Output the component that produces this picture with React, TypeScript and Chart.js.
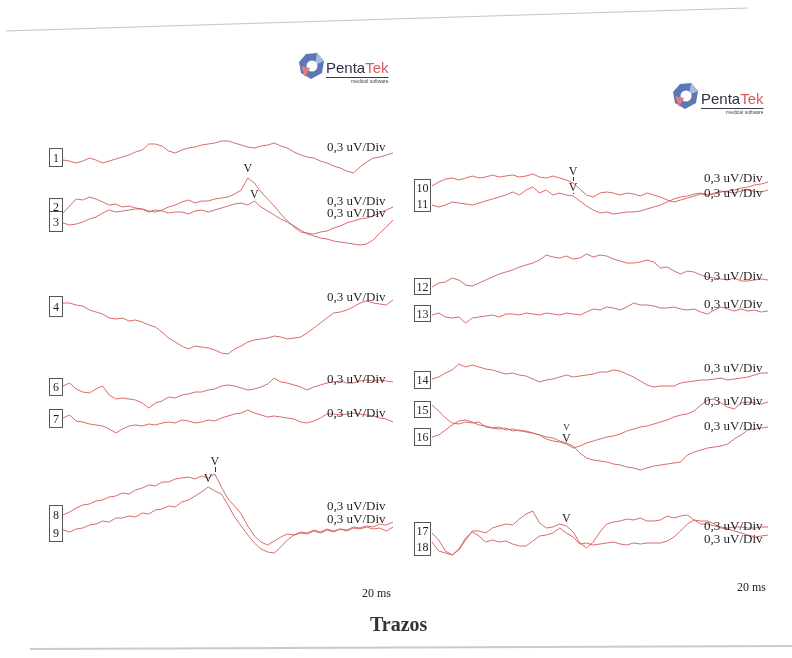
import React, { useEffect, useRef } from 'react';
import { Chart, registerables } from 'chart.js';

Chart.register(...registerables);

const PAGE_W = 792;
const PAGE_H = 658;
const SWEEP_MS = 20;
const SAMPLE_MS = 0.4;
const TRACE_COLOR = 'rgba(212, 92, 92, 0.9)';
const SERIF = "'Liberation Serif', 'DejaVu Serif', serif";
const SANS = "'Liberation Sans', Arial, sans-serif";

// Recorded amplitudes, one sample every 0.4 ms over the 20 ms sweep (positive = upward).
const trace1 = [0, -1, -3, -1, 2, 0, -3, -1, 1, 3, 5, 8, 10, 16, 16, 14, 9, 7, 10, 12, 13, 15, 16, 17, 19, 19, 17, 15, 13, 12, 14, 15, 17, 14, 12, 8, 5, 3, 2, -1, -3, -6, -8, -11, -13, -7, -2, 2, 3, 5, 7];
const trace2 = [-3, 4, 11, 10, 13, 11, 8, 5, 6, 3, 4, 2, 1, -1, -2, 0, 3, 5, 8, 10, 7, 9, 9, 11, 12, 13, 16, 20, 32, 27, 18, 11, 4, -4, -11, -17, -22, -23, -24, -22, -21, -18, -16, -13, -11, -9, -8, -6, -3, 0, 3];
const trace3 = [0, -2, -1, 1, 4, 6, 10, 13, 11, 12, 13, 14, 14, 11, 13, 12, 10, 11, 11, 9, 12, 13, 11, 13, 15, 17, 19, 20, 18, 22, 16, 12, 8, 4, 1, -3, -7, -11, -13, -15, -16, -18, -19, -20, -21, -22, -21, -17, -10, -4, 3];
const trace4 = [0, 0, -2, -3, -7, -9, -11, -15, -16, -15, -18, -17, -19, -22, -24, -29, -35, -39, -43, -46, -43, -44, -45, -47, -50, -51, -46, -43, -39, -37, -36, -35, -33, -34, -36, -35, -34, -30, -25, -20, -15, -10, -9, -7, -4, 0, 2, 0, -1, -2, 3];
const trace6 = [0, 3, -3, -6, -7, -3, 0, -9, -13, -12, -13, -14, -17, -22, -17, -15, -11, -12, -9, -8, -6, -6, -4, -3, 0, 1, 0, -2, -4, -3, -1, 2, 8, 4, 3, 1, -1, -4, -1, 1, 3, 4, 5, 3, 3, 5, 6, 5, 6, 5, 4];
const trace7 = [0, 3, -3, -4, -6, -7, -8, -11, -15, -11, -8, -7, -8, -6, -7, -5, -4, -5, -2, -3, -5, -4, -2, -3, 0, 2, 4, 5, 8, 5, 3, 1, 2, 1, 0, -1, -4, -5, -3, 0, 4, 4, 3, 4, 5, 4, 3, 2, 0, -1, -4];
const trace8 = [0, 3, 7, 10, 11, 14, 15, 18, 19, 22, 21, 25, 27, 30, 29, 33, 33, 36, 37, 38, 36, 39, 37, 41, 28, 16, 9, 1, -11, -21, -27, -30, -26, -22, -19, -20, -17, -18, -15, -17, -14, -16, -14, -15, -12, -13, -11, -12, -9, -10, -7];
const trace9 = [0, -2, 1, 2, 5, 6, 9, 8, 12, 12, 14, 13, 17, 16, 20, 21, 24, 23, 28, 30, 34, 38, 43, 39, 36, 25, 13, 4, -5, -13, -19, -22, -23, -17, -10, -5, -3, -4, -1, -3, 0, -2, 1, -1, 2, 1, 3, 1, 2, -1, 3];
const trace10 = [0, 4, 7, 8, 6, 8, 10, 8, 9, 11, 9, 10, 11, 9, 10, 12, 9, 8, 10, 8, 6, 3, -3, -9, -11, -7, -6, -7, -9, -7, -8, -10, -7, -9, -11, -14, -16, -14, -12, -10, -8, -9, -8, -6, -5, -4, -2, -1, 1, 2, 4];
const trace11 = [0, -2, 0, 3, 2, 1, 0, 2, 4, 6, 8, 10, 13, 10, 15, 18, 12, 15, 10, 12, 10, 9, 4, -1, -5, -8, -7, -9, -8, -7, -7, -6, -4, -2, 0, 3, 6, 8, 9, 11, 12, 10, 12, 14, 13, 12, 14, 15, 14, 13, 15];
const trace12 = [0, 4, 5, 9, 7, 2, 1, 4, 7, 10, 13, 15, 17, 20, 22, 24, 27, 32, 30, 29, 31, 28, 29, 33, 30, 32, 31, 28, 26, 24, 24, 25, 27, 25, 19, 20, 16, 13, 16, 15, 12, 10, 9, 8, 7, 9, 6, 6, 7, 8, 7];
const trace13 = [0, 2, -2, -3, -2, -8, -3, -2, -1, 0, -2, 1, 1, 0, 2, 1, 0, 2, 1, 0, 2, 1, 0, 3, 6, 5, 8, 7, 5, 8, 12, 10, 10, 9, 7, 7, 8, 6, 5, 6, 3, 1, 5, 8, 6, 4, 6, 4, 5, 3, 4];
const trace14 = [0, 2, 6, 9, 15, 12, 14, 12, 10, 9, 7, 5, 6, 4, 3, 0, -3, -1, 0, 2, 4, 2, 3, 4, 5, 7, 7, 9, 8, 5, 2, -2, -6, -8, -7, -7, -7, -4, -3, -2, -1, -1, 0, 1, -1, 0, 1, 2, 4, 6, 6];
const trace15 = [4, -2, -9, -14, -15, -13, -14, -13, -18, -19, -20, -19, -22, -21, -23, -24, -26, -30, -32, -33, -35, -39, -37, -34, -32, -30, -28, -27, -25, -22, -20, -18, -17, -15, -13, -11, -8, -6, -5, -2, 4, 9, 10, 6, 2, 0, 6, 7, 6, 5, 7];
const trace16 = [0, 2, 7, 12, 16, 17, 15, 12, 11, 9, 10, 7, 8, 6, 6, 4, 2, 0, -1, -4, -6, -9, -16, -21, -23, -24, -25, -27, -28, -30, -31, -33, -31, -29, -28, -27, -26, -25, -18, -15, -13, -11, -10, -9, -7, -2, 2, 7, 8, 9, 10];
const trace17 = [-1, -8, -19, -23, -18, -8, 1, 1, -1, 4, 6, 8, 7, 13, 18, 21, 9, 4, 5, 8, 6, 0, -11, -16, -10, 0, 8, 10, 11, 13, 12, 14, 11, 11, 12, 16, 14, 16, 17, 12, 8, 8, 6, 5, 4, 5, 5, 4, 4, 5, 5];
const trace18 = [4, -5, -7, -9, -3, 8, 14, 10, 4, 6, 4, 5, 2, 0, 0, 5, 10, 11, 13, 18, 13, 9, 2, 3, 1, 2, 3, 4, 2, 1, 3, 2, 3, 3, 3, 5, 9, 15, 22, 26, 25, 25, 22, 18, 17, 15, 13, 11, 9, 10, 11];

const scaleText = '0,3 uV/Div';
const timeText = '20 ms';
const pageTitle = 'Trazos';

// Page layout of the two columns of traces.
const columns = {
  L: { x0: 63, x1: 393, boxX: 49, boxW: 13, divX: 327, timeX: 362, timeY: 597 },
  R: { x0: 432, x1: 768, boxX: 414, boxW: 16, divX: 704, timeX: 737, timeY: 591 },
};

type Col = 'L' | 'R';
type Trace = { id: string; values: number[]; col: Col; base: number; divY: number };

const traces: Trace[] = [
  { id: '1', values: trace1, col: 'L', base: 160, divY: 151 },
  { id: '2', values: trace2, col: 'L', base: 210, divY: 205 },
  { id: '3', values: trace3, col: 'L', base: 223, divY: 217 },
  { id: '4', values: trace4, col: 'L', base: 303, divY: 301 },
  { id: '6', values: trace6, col: 'L', base: 386, divY: 383 },
  { id: '7', values: trace7, col: 'L', base: 418, divY: 417 },
  { id: '8', values: trace8, col: 'L', base: 515, divY: 510 },
  { id: '9', values: trace9, col: 'L', base: 530, divY: 523 },
  { id: '10', values: trace10, col: 'R', base: 186, divY: 182 },
  { id: '11', values: trace11, col: 'R', base: 205, divY: 197 },
  { id: '12', values: trace12, col: 'R', base: 287, divY: 280 },
  { id: '13', values: trace13, col: 'R', base: 315, divY: 308 },
  { id: '14', values: trace14, col: 'R', base: 379, divY: 372 },
  { id: '15', values: trace15, col: 'R', base: 409, divY: 405 },
  { id: '16', values: trace16, col: 'R', base: 437, divY: 430 },
  { id: '17', values: trace17, col: 'R', base: 532, divY: 530 },
  { id: '18', values: trace18, col: 'R', base: 546, divY: 543 },
];

// Numbered boxes at the start of the traces (paired traces share one box).
const boxes: { col: Col; ids: string[]; top: number; bottom: number }[] = [
  { col: 'L', ids: ['1'], top: 148, bottom: 166 },
  { col: 'L', ids: ['2'], top: 198, bottom: 214 },
  { col: 'L', ids: ['3'], top: 211, bottom: 231 },
  { col: 'L', ids: ['4'], top: 296, bottom: 316 },
  { col: 'L', ids: ['6'], top: 378, bottom: 395 },
  { col: 'L', ids: ['7'], top: 409, bottom: 427 },
  { col: 'L', ids: ['8', '9'], top: 505, bottom: 541 },
  { col: 'R', ids: ['10', '11'], top: 179, bottom: 211 },
  { col: 'R', ids: ['12'], top: 278, bottom: 294 },
  { col: 'R', ids: ['13'], top: 305, bottom: 321 },
  { col: 'R', ids: ['14'], top: 371, bottom: 388 },
  { col: 'R', ids: ['15'], top: 401, bottom: 417 },
  { col: 'R', ids: ['16'], top: 428, bottom: 445 },
  { col: 'R', ids: ['17', '18'], top: 522, bottom: 555 },
];

// Wave V markers: trace, sample index, lift of the letter above the sample.
const waveMarks: { trace: string; at: number; lift: number; size: number; tick?: boolean }[] = [
  { trace: '2', at: 28, lift: 6, size: 12 },
  { trace: '3', at: 29, lift: 3, size: 12 },
  { trace: '8', at: 23, lift: 9, size: 12, tick: true },
  { trace: '9', at: 22, lift: 5, size: 12 },
  { trace: '10', at: 21, lift: 8, size: 12, tick: true },
  { trace: '11', at: 21, lift: 5, size: 12, tick: true },
  { trace: '16', at: 20, lift: 13, size: 9 },
  { trace: '15', at: 20, lift: 2, size: 12 },
  { trace: '17', at: 20, lift: 4, size: 12 },
];

// Map the 20 ms sweep of a column onto its horizontal span of the page.
function axisSpan(c: { x0: number; x1: number }) {
  const pxPerMs = (c.x1 - c.x0) / SWEEP_MS;
  const min = -c.x0 / pxPerMs;
  return { min, max: min + PAGE_W / pxPerMs };
}

function drawLogo(ctx: CanvasRenderingContext2D, x: number, y: number, textX: number, textY: number) {
  ctx.save();
  ctx.translate(x, y);
  ctx.fillStyle = '#5a78b6';
  ctx.beginPath();
  ctx.moveTo(7, 1);
  ctx.lineTo(18, 0);
  ctx.lineTo(25, 8);
  ctx.lineTo(23, 20);
  ctx.lineTo(12, 26);
  ctx.lineTo(2, 20);
  ctx.lineTo(0, 9);
  ctx.closePath();
  ctx.fill();
  ctx.fillStyle = '#a9bbe0';
  ctx.beginPath();
  ctx.moveTo(18, 0);
  ctx.lineTo(25, 8);
  ctx.lineTo(16, 12);
  ctx.closePath();
  ctx.fill();
  ctx.fillStyle = '#ffffff';
  ctx.beginPath();
  ctx.arc(13, 13, 5.5, 0, Math.PI * 2);
  ctx.fill();
  ctx.fillStyle = '#e27b7b';
  ctx.beginPath();
  ctx.moveTo(2, 13);
  ctx.lineTo(11, 15);
  ctx.lineTo(6, 24);
  ctx.closePath();
  ctx.fill();
  ctx.restore();

  ctx.save();
  ctx.font = `15px ${SANS}`;
  ctx.textBaseline = 'alphabetic';
  ctx.textAlign = 'left';
  ctx.fillStyle = '#2c3148';
  ctx.fillText('Penta', textX, textY);
  const w1 = ctx.measureText('Penta').width;
  ctx.fillStyle = '#d65c5c';
  ctx.fillText('Tek', textX + w1, textY);
  const w2 = ctx.measureText('Tek').width;
  ctx.strokeStyle = '#3a3a4a';
  ctx.lineWidth = 1;
  ctx.beginPath();
  ctx.moveTo(textX, textY + 4.5);
  ctx.lineTo(textX + w1 + w2, textY + 4.5);
  ctx.stroke();
  ctx.font = `5px ${SANS}`;
  ctx.fillStyle = '#444';
  ctx.textAlign = 'right';
  ctx.fillText('medical software', textX + w1 + w2, textY + 10);
  ctx.restore();
}

const pagePlugin = {
  id: 'pageDecor',
  beforeDraw(chart: any) {
    const ctx: CanvasRenderingContext2D = chart.ctx;
    ctx.save();
    ctx.fillStyle = '#ffffff';
    ctx.fillRect(0, 0, PAGE_W, PAGE_H);
    // paper edges of the sheet
    ctx.strokeStyle = 'rgba(150,150,150,0.55)';
    ctx.lineWidth = 1.2;
    ctx.beginPath();
    ctx.moveTo(6, 31);
    ctx.lineTo(748, 8);
    ctx.stroke();
    ctx.strokeStyle = 'rgba(150,150,150,0.5)';
    ctx.lineWidth = 2;
    ctx.beginPath();
    ctx.moveTo(30, 649);
    ctx.lineTo(792, 646);
    ctx.stroke();
    ctx.restore();

    drawLogo(ctx, 299, 53, 326, 73);
    drawLogo(ctx, 673, 83, 701, 104);

    ctx.save();
    ctx.fillStyle = '#222';
    ctx.font = `12px ${SERIF}`;
    ctx.textAlign = 'left';
    ctx.fillText(timeText, columns.L.timeX, columns.L.timeY);
    ctx.fillText(timeText, columns.R.timeX, columns.R.timeY);
    ctx.font = `bold 20px ${SERIF}`;
    ctx.fillStyle = '#333';
    ctx.fillText(pageTitle, 370, 631);
    ctx.restore();
  },
  afterDatasetsDraw(chart: any) {
    const ctx: CanvasRenderingContext2D = chart.ctx;
    ctx.save();
    ctx.textBaseline = 'alphabetic';

    // scale annotation next to each trace end
    ctx.fillStyle = '#1e1e1e';
    ctx.font = `13px ${SERIF}`;
    ctx.textAlign = 'left';
    traces.forEach((tr) => {
      ctx.fillText(scaleText, columns[tr.col].divX, tr.divY);
    });

    // numbered boxes
    boxes.forEach((b) => {
      const c = columns[b.col];
      ctx.fillStyle = '#ffffff';
      ctx.fillRect(c.boxX, b.top, c.boxW, b.bottom - b.top);
      ctx.strokeStyle = '#555';
      ctx.lineWidth = 1;
      ctx.strokeRect(c.boxX + 0.5, b.top + 0.5, c.boxW, b.bottom - b.top);
      ctx.fillStyle = '#1e1e1e';
      ctx.font = `12px ${SERIF}`;
      ctx.textAlign = 'center';
      const slot = (b.bottom - b.top) / b.ids.length;
      b.ids.forEach((id, i) => {
        ctx.fillText(id, c.boxX + c.boxW / 2 + 0.5, b.top + slot * i + slot / 2 + 4.5);
      });
    });

    // wave V markers placed on their samples
    waveMarks.forEach((m) => {
      const idx = traces.findIndex((t) => t.id === m.trace);
      const meta = chart.getDatasetMeta(idx);
      const pt = meta.data[m.at];
      if (!pt) return;
      const base = pt.y - m.lift;
      ctx.fillStyle = '#1e1e1e';
      ctx.font = `${m.size}px ${SERIF}`;
      ctx.textAlign = 'center';
      ctx.fillText('V', pt.x, base);
      if (m.tick) {
        ctx.strokeStyle = '#333';
        ctx.lineWidth = 1;
        ctx.beginPath();
        ctx.moveTo(Math.round(pt.x) + 0.5, base + 2);
        ctx.lineTo(Math.round(pt.x) + 0.5, pt.y - 2);
        ctx.stroke();
      }
    });
    ctx.restore();
  },
};

export default function App() {
  const ref = useRef<HTMLCanvasElement | null>(null);

  useEffect(() => {
    const canvas = ref.current;
    if (!canvas) return;
    const spanL = axisSpan(columns.L);
    const spanR = axisSpan(columns.R);
    const chart = new Chart(canvas, {
      type: 'line',
      data: {
        datasets: traces.map((tr) => ({
          label: tr.id,
          data: tr.values.map((v, k) => ({ x: k * SAMPLE_MS, y: tr.base - v })),
          xAxisID: tr.col === 'L' ? 'xL' : 'xR',
          yAxisID: 'y',
          borderColor: TRACE_COLOR,
          borderWidth: 1,
          pointRadius: 0,
          tension: 0,
          fill: false,
        })),
      },
      options: {
        animation: false,
        responsive: false,
        maintainAspectRatio: false,
        devicePixelRatio: 1,
        events: [],
        layout: { padding: 0 },
        plugins: { legend: { display: false }, tooltip: { enabled: false } },
        scales: {
          xL: { type: 'linear', axis: 'x', display: false, min: spanL.min, max: spanL.max },
          xR: { type: 'linear', axis: 'x', display: false, min: spanR.min, max: spanR.max },
          y: { type: 'linear', display: false, min: 0, max: PAGE_H, reverse: true },
        },
      } as any,
      plugins: [pagePlugin as any],
    });
    return () => chart.destroy();
  }, []);

  return (
    <div style={{ position: 'fixed', left: 0, top: 0, width: PAGE_W, height: PAGE_H, background: '#fff' }}>
      <canvas ref={ref} width={PAGE_W} height={PAGE_H} style={{ display: 'block' }} />
    </div>
  );
}
